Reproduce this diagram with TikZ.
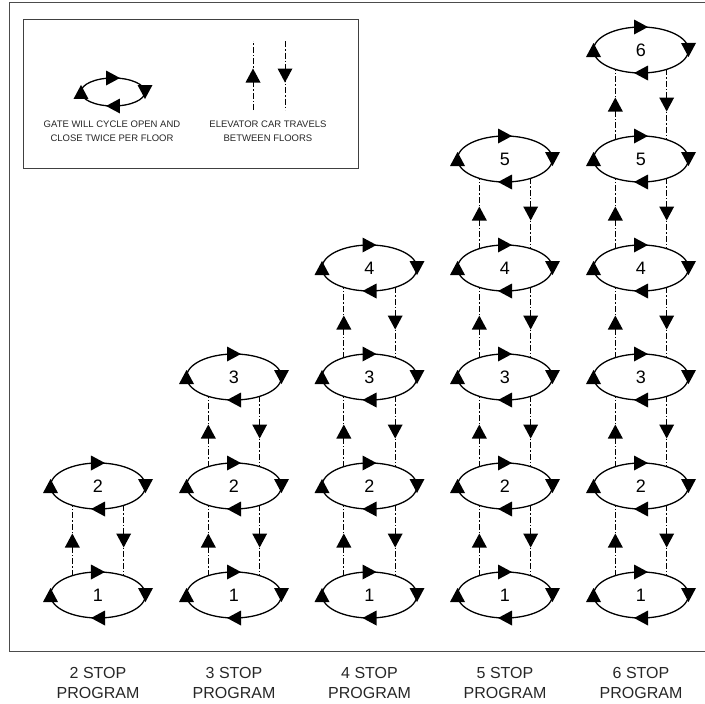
\documentclass[tikz,border=0pt]{standalone}
\usepackage{fontspec}
\setmainfont{Liberation Sans}
\usetikzlibrary{shapes.geometric,decorations.markings}
\tikzset{
  gate/.style={ellipse,draw,line width=1.3pt,inner sep=0pt,outer sep=0pt,
    minimum width=95pt,minimum height=46pt,font=\fontsize{18}{20}\selectfont,
    postaction={decorate},
    decoration={markings,mark=between positions 0 and 0.8 step 0.25 with
      {\fill (-7pt,0pt) -- (7pt,7.5pt) -- (7pt,-7.5pt) -- cycle;}}},
  lift/.style={line width=0.9pt,dash pattern=on 6pt off 2pt on 1.5pt off 2pt,
    postaction={decorate},
    decoration={markings,mark=at position 0.5 with
      {\fill[solid] (7pt,0pt) -- (-7pt,7.5pt) -- (-7pt,-7.5pt) -- cycle;}}},
  prog/.style={align=center,text=black!85,font=\fontsize{16}{20}\selectfont},
  legtext/.style={align=center,text=black!85,font=\fontsize{9.5}{14}\selectfont}
}
\begin{document}
\begin{tikzpicture}[x=1pt,y=-1pt]
  \useasboundingbox (0,0) rectangle (705,704);
  \draw[line width=0.9pt,black!70] (9,2) rectangle (710,651);
  \draw[line width=0.7pt,black!75] (23,19) rectangle (358,168);

  \node[gate,minimum width=64pt,minimum height=28pt] (lggate) at (113,92) {};
  \node[legtext] (lgtxt1) at (112,131) {GATE WILL CYCLE OPEN AND\\CLOSE TWICE PER FLOOR};
  \coordinate (lgup0) at (253,110);
  \coordinate (lgup1) at (253,41);
  \coordinate (lgdn0) at (285,41);
  \coordinate (lgdn1) at (285,110);
  \draw[lift] (lgup0) -- (lgup1);
  \draw[lift] (lgdn0) -- (lgdn1);
  \node[legtext] (lgtxt2) at (268,131) {ELEVATOR CAR TRAVELS\\BETWEEN FLOORS};

  \node[gate] (p2f1) at (98,595) {1};
  \node[gate] (p2f2) at (98,486) {2};

  \node[gate] (p3f1) at (234,595) {1};
  \node[gate] (p3f2) at (234,486) {2};
  \node[gate] (p3f3) at (234,377) {3};

  \node[gate] (p4f1) at (369.5,595) {1};
  \node[gate] (p4f2) at (369.5,486) {2};
  \node[gate] (p4f3) at (369.5,377) {3};
  \node[gate] (p4f4) at (369.5,268) {4};

  \node[gate] (p5f1) at (505,595) {1};
  \node[gate] (p5f2) at (505,486) {2};
  \node[gate] (p5f3) at (505,377) {3};
  \node[gate] (p5f4) at (505,268) {4};
  \node[gate] (p5f5) at (505,159) {5};

  \node[gate] (p6f1) at (641,595) {1};
  \node[gate] (p6f2) at (641,486) {2};
  \node[gate] (p6f3) at (641,377) {3};
  \node[gate] (p6f4) at (641,268) {4};
  \node[gate] (p6f5) at (641,159) {5};
  \node[gate] (p6f6) at (641,50) {6};

  \draw[lift] (p2f1.143) -- (p2f2.217);
  \draw[lift] (p2f2.-37) -- (p2f1.37);

  \draw[lift] (p3f1.143) -- (p3f2.217);
  \draw[lift] (p3f2.-37) -- (p3f1.37);
  \draw[lift] (p3f2.143) -- (p3f3.217);
  \draw[lift] (p3f3.-37) -- (p3f2.37);

  \draw[lift] (p4f1.143) -- (p4f2.217);
  \draw[lift] (p4f2.-37) -- (p4f1.37);
  \draw[lift] (p4f2.143) -- (p4f3.217);
  \draw[lift] (p4f3.-37) -- (p4f2.37);
  \draw[lift] (p4f3.143) -- (p4f4.217);
  \draw[lift] (p4f4.-37) -- (p4f3.37);

  \draw[lift] (p5f1.143) -- (p5f2.217);
  \draw[lift] (p5f2.-37) -- (p5f1.37);
  \draw[lift] (p5f2.143) -- (p5f3.217);
  \draw[lift] (p5f3.-37) -- (p5f2.37);
  \draw[lift] (p5f3.143) -- (p5f4.217);
  \draw[lift] (p5f4.-37) -- (p5f3.37);
  \draw[lift] (p5f4.143) -- (p5f5.217);
  \draw[lift] (p5f5.-37) -- (p5f4.37);

  \draw[lift] (p6f1.143) -- (p6f2.217);
  \draw[lift] (p6f2.-37) -- (p6f1.37);
  \draw[lift] (p6f2.143) -- (p6f3.217);
  \draw[lift] (p6f3.-37) -- (p6f2.37);
  \draw[lift] (p6f3.143) -- (p6f4.217);
  \draw[lift] (p6f4.-37) -- (p6f3.37);
  \draw[lift] (p6f4.143) -- (p6f5.217);
  \draw[lift] (p6f5.-37) -- (p6f4.37);
  \draw[lift] (p6f5.143) -- (p6f6.217);
  \draw[lift] (p6f6.-37) -- (p6f5.37);

  \node[prog] (lbl2) at (98,683) {2 STOP\\PROGRAM};
  \node[prog] (lbl3) at (234,683) {3 STOP\\PROGRAM};
  \node[prog] (lbl4) at (369.5,683) {4 STOP\\PROGRAM};
  \node[prog] (lbl5) at (505,683) {5 STOP\\PROGRAM};
  \node[prog] (lbl6) at (641,683) {6 STOP\\PROGRAM};
\end{tikzpicture}
\end{document}
